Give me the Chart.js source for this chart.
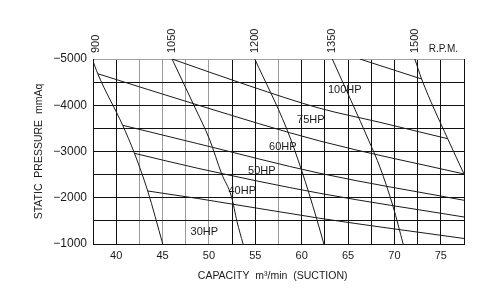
<!DOCTYPE html>
<html>
<head>
<meta charset="utf-8">
<script src="https://cdn.jsdelivr.net/npm/chart.js@4/dist/chart.umd.min.js"></script>
<style>
  body { margin: 0; background: #fff; }
  canvas { display: block; }
</style>
</head>
<body>
<canvas id="fan-chart" width="500" height="298"></canvas>
<script>
// fan performance curves
const rpmLabels = ['900', '1050', '1200', '1350', '1500'];

const rpm900X = [37.42, 38.01, 40.70, 41.97, 43.40, 45.02];
const rpm900Y = [-5000, -4682, -3567, -2961, -2146, -1000];
const rpm1050X = [46.02, 48.40, 50.09, 51.35, 52.43, 53.03, 53.68];
const rpm1050Y = [-5000, -3990, -3249, -2529, -2023, -1482, -1000];
const rpm1200X = [54.94, 58.36, 59.98, 61.60, 62.39];
const rpm1200Y = [-5000, -3502, -2600, -1556, -1000];
const rpm1350X = [63.30, 67.35, 68.43, 69.86, 70.94];
const rpm1350Y = [-5000, -3184, -2665, -1807, -1000];
const rpm1500X = [72.20, 72.93, 75.74, 77.5];
const rpm1500Y = [-5000, -4568, -3277, -2514];

const hpLabels = ['100HP', '75HP', '60HP', '50HP', '40HP', '30HP'];

const hp100X = [66.27, 68.43, 72.93];
const hp100Y = [-5000, -4859, -4568];
const hp75X = [46.02, 54.40, 61.96, 68.43, 75.74];
const hp75Y = [-5000, -4416, -3934, -3631, -3277];
const hp60X = [38.01, 48.80, 61.96, 77.5];
const hp60Y = [-4682, -4005, -3227, -2514];
const hp50X = [40.70, 48.80, 61.96, 77.5];
const hp50Y = [-3567, -3169, -2529, -1945];
const hp40X = [41.97, 48.80, 61.96, 77.5];
const hp40Y = [-2961, -2637, -2096, -1584];
const hp30X = [43.40, 48.80, 61.96, 77.5];
const hp30Y = [-2146, -1984, -1556, -1119];

// where the HP captions sit (data units)
const hpLabelX = [64.65, 60.98, 57.96, 55.70, 53.59, 49.50];
const hpLabelY = [-4341, -3681, -3097, -2579, -2140, -1260];

const FONT = "'Liberation Sans', Arial, sans-serif";
const INK = '#1a1a1a';
const lightGridX = [42.5, 45, 47.5, 50, 57.5];

function pts(xs, ys) {
    return xs.map((x, i) => ({ x: x, y: ys[i] }));
}

function curve(xs, ys) {
    return {
        data: pts(xs, ys),
        borderColor: INK,
        borderWidth: 1,
        pointRadius: 0,
        fill: false,
        cubicInterpolationMode: 'monotone'
    };
}

const rpmCurves = [
    [rpm900X, rpm900Y], [rpm1050X, rpm1050Y], [rpm1200X, rpm1200Y],
    [rpm1350X, rpm1350Y], [rpm1500X, rpm1500Y]
];
const hpCurves = [
    [hp100X, hp100Y], [hp75X, hp75Y], [hp60X, hp60Y],
    [hp50X, hp50Y], [hp40X, hp40Y], [hp30X, hp30Y]
];

const datasets = rpmCurves.concat(hpCurves).map(c => curve(c[0], c[1]));

const captions = {
    id: 'captions',
    afterDatasetsDraw(chart) {
        const ctx = chart.ctx;
        const xs = chart.scales.x;
        const ys = chart.scales.y;
        const area = chart.chartArea;
        ctx.save();
        ctx.fillStyle = INK;
        ctx.font = '11px ' + FONT;
        ctx.textAlign = 'center';
        ctx.textBaseline = 'middle';
        hpLabels.forEach((txt, i) => {
            ctx.fillText(txt, xs.getPixelForValue(hpLabelX[i]), ys.getPixelForValue(hpLabelY[i]));
        });

        // speed labels stand upright over the top end of each rpm curve
        ctx.textAlign = 'left';
        rpmLabels.forEach((txt, i) => {
            const px = Math.max(xs.getPixelForValue(rpmCurves[i][0][0]), area.left + 3);
            ctx.save();
            ctx.translate(px, area.top - 6);
            ctx.rotate(-Math.PI / 2);
            ctx.fillText(txt, 0, 0);
            ctx.restore();
        });

        ctx.font = '10px ' + FONT;
        ctx.textAlign = 'right';
        ctx.textBaseline = 'alphabetic';
        ctx.fillText('R.P.M.', area.right - 6, area.top - 7);
        ctx.restore();
    }
};

new Chart(document.getElementById('fan-chart'), {
    type: 'line',
    data: { datasets: datasets },
    options: {
        responsive: false,
        animation: false,
        layout: { padding: { left: 0, right: 36, top: 59, bottom: 0 } },
        plugins: {
            legend: { display: false },
            tooltip: { enabled: false }
        },
        scales: {
            x: {
                type: 'linear',
                position: 'bottom',
                min: 37.5,
                max: 77.5,
                afterFit: (s) => { s.height = 54; },
                ticks: {
                    stepSize: 2.5,
                    padding: 5,
                    color: INK,
                    font: { family: FONT, size: 11 },
                    maxRotation: 0,
                    autoSkip: false,
                    callback: (v) => (v % 5 === 0 ? String(v) : '')
                },
                grid: {
                    drawTicks: false,
                    color: (c) => (lightGridX.includes(c.tick && c.tick.value) ? '#9a9a9a' : '#111')
                },
                border: { color: '#111' },
                title: {
                    display: true,
                    text: 'CAPACITY  m³/min  (SUCTION)\u00a0\u00a0\u00a0\u00a0',
                    color: INK,
                    font: { family: FONT, size: 10.5 },
                    padding: { top: 0, bottom: 16 }
                }
            },
            y: {
                type: 'linear',
                min: -5000,
                max: -1000,
                reverse: true,
                afterFit: (s) => { s.width = 93; },
                ticks: {
                    stepSize: 500,
                    padding: 6,
                    color: INK,
                    font: { family: FONT, size: 12 },
                    callback: (v) => (v % 1000 === 0 ? '\u2212' + Math.abs(v) : '')
                },
                grid: {
                    drawTicks: false,
                    color: (c) => (c.tick && c.tick.value === -5000 ? '#a0a0a0' : '#111')
                },
                border: { color: '#111' },
                title: {
                    display: true,
                    text: 'STATIC  PRESSURE  mmAq',
                    color: INK,
                    font: { family: FONT, size: 10.5 },
                    padding: { top: 33, bottom: 0 }
                }
            }
        }
    },
    plugins: [captions]
});
</script>
</body>
</html>
